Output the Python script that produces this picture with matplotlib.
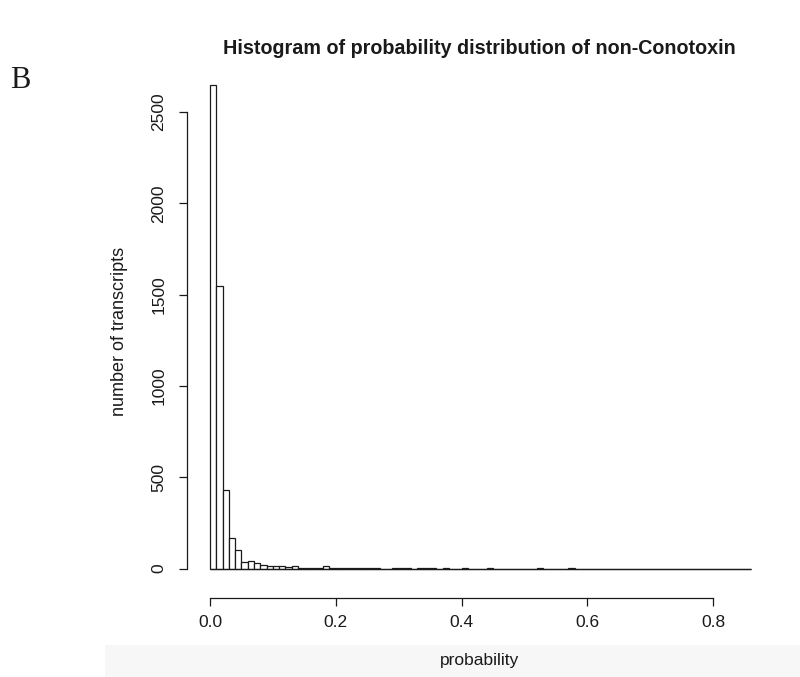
import numpy as np
import matplotlib.pyplot as plt
from matplotlib.patches import Rectangle

# histogram bins of width 0.01 from 0 to 0.86, counts
bin_width = 0.01
counts = [2650, 1549, 432, 165, 103, 37, 44, 33, 22, 12,
          12, 12, 8, 14, 6, 3, 5, 6, 12, 4,
          3, 3, 2, 3, 2, 2, 2, 0, 0, 2,
          2, 1, 0, 2, 2, 1, 0, 1, 0, 0,
          1, 0, 0, 0, 1, 0, 0, 0, 0, 0,
          0, 0, 1, 0, 0, 0, 0, 1] + [0] * 28
xticks = [0.0, 0.2, 0.4, 0.6, 0.8]
yticks = [0, 500, 1000, 1500, 2000, 2500]

title = "Histogram of probability distribution of non-Conotoxin"
xlab = "probability"
ylab = "number of transcripts"

plt.rcParams['font.family'] = ['Liberation Sans', 'DejaVu Sans']

W, H = 800, 677
fig = plt.figure(figsize=(W / 100, H / 100), dpi=100)

# plot region in pixels (left, right, top, bottom)
L, R, T, B = 187, 772, 65, 598
ax = fig.add_axes([L / W, (H - B) / H, (R - L) / W, (B - T) / H])

edges = np.arange(len(counts) + 1) * bin_width
ax.bar(edges[:-1], counts, width=bin_width, align='edge',
       facecolor='white', edgecolor='#1a1a1a', linewidth=0.9)
ax.hlines(0, edges[0], edges[-1], color='#1a1a1a', linewidth=0.9)

# pixel scale: x 0 -> 210, 0.8 -> 713 ; y 0 -> 568.6, 2500 -> 112
xs = (713 - 210) / 0.8
ax.set_xlim(-(210 - L) / xs, (R - 210) / xs)
ys = (568.6 - 112) / 2500
ax.set_ylim(-(B - 568.6) / ys, (568.6 - T) / ys)

for s in ['top', 'right']:
    ax.spines[s].set_visible(False)
ax.spines['left'].set_bounds(0, 2500)
ax.spines['bottom'].set_bounds(0, 0.8)
for s in ['left', 'bottom']:
    ax.spines[s].set_linewidth(0.9)
    ax.spines[s].set_color('#1a1a1a')

ax.set_xticks(xticks)
ax.set_xticklabels(['%.1f' % v for v in xticks])
ax.set_yticks(yticks)
ax.set_yticklabels([str(v) for v in yticks], rotation=90, va='center')
ax.tick_params(length=6, width=0.9, color='#1a1a1a', labelsize=12.5,
               labelcolor='#1a1a1a')
ax.tick_params(axis='x', pad=6)
ax.tick_params(axis='y', pad=9)

ax.set_ylabel(ylab, fontsize=13, color='#1a1a1a', labelpad=17)

# title and panel letter
fig.text((L + R) / 2 / W, 1 - 48 / H, title, ha='center', va='center',
         fontsize=14.2, fontweight='bold', color='#1a1a1a')
fig.text(10 / W, 1 - 81 / H, "B", ha='left', va='center',
         fontsize=22, family='Liberation Serif', color='#1a1a1a')

# x label sits on a light grey strip
fig.patches.append(Rectangle((105 / W, 0), 1 - 105 / W, 32 / H,
                             transform=fig.transFigure,
                             facecolor='#f7f7f7', edgecolor='none'))
fig.text((L + R) / 2 / W, 16 / H, xlab, ha='center', va='center',
         fontsize=12.5, color='#1a1a1a')

fig.savefig('out.png', dpi=100)
